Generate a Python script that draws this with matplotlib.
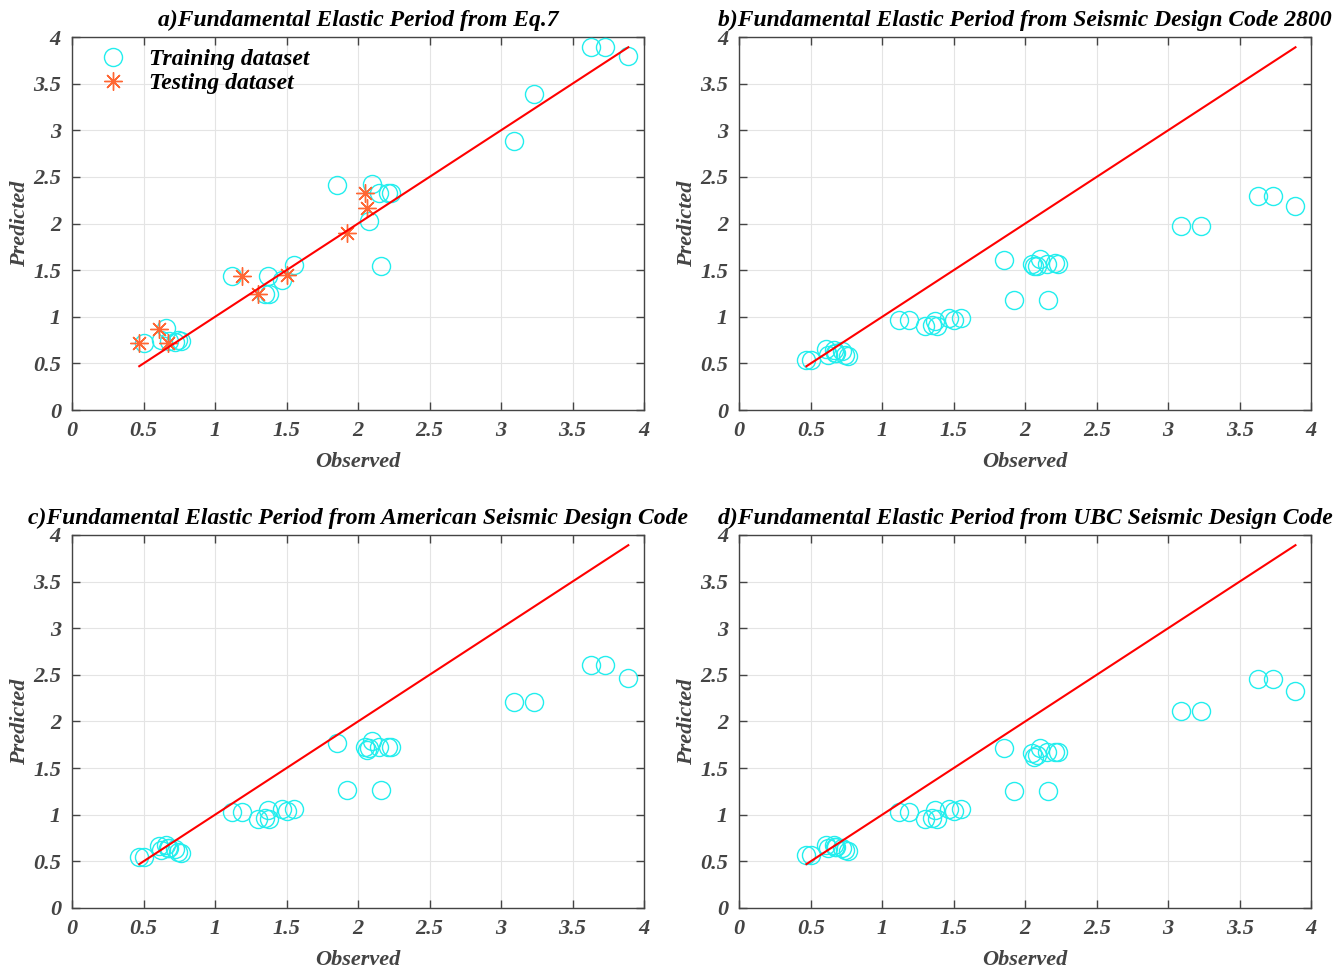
import matplotlib
matplotlib.use("Agg")
import matplotlib.pyplot as plt
import numpy as np

# observed periods (same buildings in all four panels)
observed = [0.47, 0.50, 0.61, 0.62, 0.66, 0.67, 0.68, 0.72, 0.74, 0.76,
            1.12, 1.19, 1.30, 1.35, 1.37, 1.38, 1.47, 1.50, 1.55, 1.85,
            1.92, 2.05, 2.06, 2.08, 2.10, 2.15, 2.16, 2.21, 2.23, 3.09,
            3.23, 3.63, 3.73, 3.89]
# 1 = testing sample in panel a
is_test = [1, 0, 1, 0, 0, 1, 0, 0, 0, 0,
           0, 1, 1, 0, 0, 0, 0, 1, 0, 0,
           1, 1, 1, 0, 0, 0, 0, 0, 0, 0,
           0, 0, 0, 0]

pred_eq7 = [0.72, 0.72, 0.87, 0.75, 0.88, 0.72, 0.74, 0.73, 0.75, 0.74,
            1.44, 1.44, 1.24, 1.24, 1.44, 1.24, 1.39, 1.45, 1.56, 2.41,
            1.90, 2.33, 2.17, 2.03, 2.42, 2.33, 1.55, 2.33, 2.33, 2.88,
            3.39, 3.89, 3.89, 3.80]
pred_2800 = [0.54, 0.54, 0.65, 0.59, 0.64, 0.61, 0.61, 0.63, 0.59, 0.58,
             0.97, 0.97, 0.90, 0.91, 0.96, 0.90, 0.99, 0.97, 0.99, 1.61,
             1.18, 1.57, 1.54, 1.55, 1.62, 1.57, 1.18, 1.58, 1.57, 1.97,
             1.97, 2.29, 2.29, 2.19]
pred_asce = [0.55, 0.55, 0.66, 0.62, 0.68, 0.64, 0.64, 0.63, 0.60, 0.59,
             1.03, 1.03, 0.95, 0.96, 1.05, 0.95, 1.06, 1.04, 1.06, 1.77,
             1.27, 1.73, 1.69, 1.71, 1.79, 1.73, 1.27, 1.73, 1.73, 2.21,
             2.21, 2.60, 2.60, 2.47]
pred_ubc = [0.57, 0.57, 0.68, 0.64, 0.68, 0.65, 0.65, 0.64, 0.62, 0.61,
            1.03, 1.03, 0.95, 0.96, 1.05, 0.95, 1.06, 1.04, 1.06, 1.71,
            1.25, 1.66, 1.62, 1.64, 1.71, 1.67, 1.25, 1.67, 1.67, 2.11,
            2.11, 2.45, 2.45, 2.33]

titles = ["a)Fundamental Elastic Period from Eq.7",
          "b)Fundamental Elastic Period from Seismic Design Code 2800",
          "c)Fundamental Elastic Period from American Seismic Design Code",
          "d)Fundamental Elastic Period from UBC Seismic Design Code"]
ticks = [0, 0.5, 1, 1.5, 2, 2.5, 3, 3.5, 4]
tick_labels = ["0", "0.5", "1", "1.5", "2", "2.5", "3", "3.5", "4"]

plt.rcParams['font.family'] = 'Liberation Serif'
plt.rcParams['font.weight'] = 'bold'
plt.rcParams['font.style'] = 'italic'
plt.rcParams['axes.titleweight'] = 'bold'
plt.rcParams['axes.labelweight'] = 'bold'

gray = '#444444'
circle_col = '#22eeee'
star_col = '#ff6633'

fig = plt.figure(figsize=(13.44, 9.74), dpi=100)
boxes = [(0.0536, 0.579), (0.550, 0.579), (0.0536, 0.0678), (0.550, 0.0678)]
w, h = 0.4256, 0.383

obs = np.array(observed)
test = np.array(is_test) == 1
preds = [pred_eq7, pred_2800, pred_asce, pred_ubc]

for i, (x0, y0) in enumerate(boxes):
    ax = fig.add_axes([x0, y0, w, h])
    p = np.array(preds[i])
    if i == 0:
        ax.plot(obs[~test], p[~test], 'o', ms=13, mfc='none', mec=circle_col,
                mew=1.0, label='Training dataset', zorder=3)
        ax.plot(obs[test], p[test], ls='none', marker=(8, 2, 0), ms=13,
                color=star_col, mew=1.0, label='Testing dataset', zorder=4)
        ax.legend(loc='upper left', frameon=False, fontsize=17,
                  handletextpad=0.5, borderaxespad=0.1, labelspacing=0.1,
                  bbox_to_anchor=(0.01, 1.0))
    else:
        ax.plot(obs, p, 'o', ms=13, mfc='none', mec=circle_col, mew=1.0,
                zorder=3)
    ax.plot([obs.min(), obs.max()], [obs.min(), obs.max()], color='red',
            lw=1.5, zorder=5)

    ax.set_xlim(0, 4)
    ax.set_ylim(0, 4)
    ax.set_xticks(ticks)
    ax.set_yticks(ticks)
    ax.set_xticklabels(tick_labels)
    ax.set_yticklabels(tick_labels)
    ax.tick_params(direction='in', top=True, right=True, length=6,
                   width=1, colors=gray, labelsize=16, pad=8)
    for s in ax.spines.values():
        s.set_color(gray)
        s.set_linewidth(1.0)
    ax.grid(True, color='#e4e4e4', lw=0.8)
    ax.set_axisbelow(True)
    ax.set_xlabel('Observed', fontsize=16, color=gray, labelpad=8)
    ax.set_ylabel('Predicted', fontsize=16, color=gray, labelpad=2)
    ax.set_title(titles[i], fontsize=17, color='black', pad=8)

fig.savefig('out.png', dpi=100)
